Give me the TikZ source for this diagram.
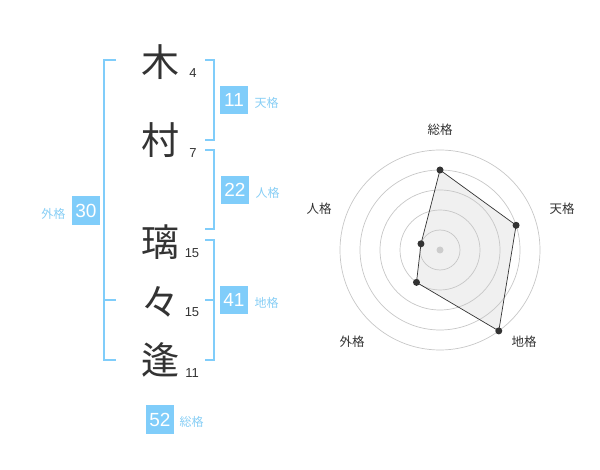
\documentclass[tikz,border=0pt]{standalone}
\usepackage{fontspec}
\setmainfont{Liberation Sans}
\newfontfamily\jpfont{Noto Sans CJK JP}
\usetikzlibrary{positioning}
\definecolor{kakublue}{RGB}{128,205,250}
\definecolor{kakutext}{RGB}{135,206,245}
\definecolor{inkgray}{RGB}{51,51,51}

\tikzset{
  kanji/.style={font=\jpfont\fontsize{38}{38}\selectfont,text=inkgray,inner sep=0pt},
  strokes/.style={font=\fontsize{13}{13}\selectfont,text=inkgray,inner sep=0pt},
  kakubox/.style={fill=kakublue,text=white,minimum size=28.5pt,inner sep=0pt,
                  font=\fontsize{19}{19}\selectfont},
  kakuname/.style={font=\jpfont\fontsize{12}{12}\selectfont,text=kakutext,inner sep=0pt},
  bracket/.style={draw=kakublue,line width=2pt},
  ring/.style={draw=black!22,line width=0.7pt},
  axisname/.style={font=\jpfont\fontsize{12.5}{12.5}\selectfont,text=inkgray,inner sep=0pt},
  dot/.style={circle,fill=inkgray,inner sep=0pt,minimum size=7pt}
}

\begin{document}
\begin{tikzpicture}[x=1pt,y=-1pt]
  \useasboundingbox (0,0) rectangle (600,470);

  % name and stroke counts
  \node[kanji] (k1) at (160,62)  {木};
  \node[kanji] (k2) at (160,140) {村};
  \node[kanji] (k3) at (160,242) {璃};
  \node[kanji] (k4) at (160,302) {々};
  \node[kanji] (k5) at (160,360) {逢};
  \node[strokes] (s1) at (193,73)  {4};
  \node[strokes] (s2) at (193,153) {7};
  \node[strokes] (s3) at (192,253) {15};
  \node[strokes] (s4) at (192,312) {15};
  \node[strokes] (s5) at (192,373) {11};

  % brackets
  \draw[bracket] (116,60) -- (104,60) -- (104,360) -- (116,360);
  \draw[bracket] (104,300) -- (116,300);
  \draw[bracket] (205,60) -- (214,60) -- (214,140) -- (205,140);
  \draw[bracket] (205,150) -- (214,150) -- (214,229) -- (205,229);
  \draw[bracket] (205,240) -- (214,240) -- (214,360) -- (205,360);
  \draw[bracket] (205,300) -- (214,300);

  % kaku values
  \node[kakubox] (ten)  at (234,100)   {11};
  \node[kakubox] (jin)  at (235,190)   {22};
  \node[kakubox] (chi)  at (234,300)   {41};
  \node[kakubox] (gai)  at (86,210.5)  {30};
  \node[kakubox] (sou)  at (160,419.5) {52};
  \node[kakuname,right=6pt of ten,yshift=-3pt] (tenname) {天格};
  \node[kakuname,right=6pt of jin,yshift=-3pt] (jinname) {人格};
  \node[kakuname,right=6pt of chi,yshift=-3pt] (chiname) {地格};
  \node[kakuname,left=6pt of gai,yshift=-3pt]  (gainame) {外格};
  \node[kakuname,right=5pt of sou,yshift=-2pt] (souname) {総格};

  % radar chart
  \begin{scope}[shift={(440,250)},x=1pt,y=1pt]
    \coordinate (c) at (0,0);
    \coordinate (rsou) at (90:80);
    \coordinate (rten) at (18:80);
    \coordinate (rchi) at (-54:100);
    \coordinate (rgai) at (234:40);
    \coordinate (rjin) at (162:20);
    \fill[black!6] (rsou) -- (rten) -- (rchi) -- (rgai) -- (rjin) -- cycle;
    \foreach \r in {20,40,60,80,100}
      \draw[ring] (c) circle[radius=\r pt];
    \draw[inkgray,line width=0.7pt] (rsou) -- (rten) -- (rchi) -- (rgai) -- (rjin) -- cycle;
    \node[dot] (psou) at (rsou) {};
    \node[dot] (pten) at (rten) {};
    \node[dot] (pchi) at (rchi) {};
    \node[dot] (pgai) at (rgai) {};
    \node[dot] (pjin) at (rjin) {};
    \node[dot,fill=black!20] (pc) at (c) {};
    \node[axisname] (asou) at (0,120)   {総格};
    \node[axisname] (aten) at (122,41)  {天格};
    \node[axisname] (achi) at (84,-92)  {地格};
    \node[axisname] (agai) at (-88,-92) {外格};
    \node[axisname] (ajin) at (-121,41) {人格};
  \end{scope}
\end{tikzpicture}
\end{document}
